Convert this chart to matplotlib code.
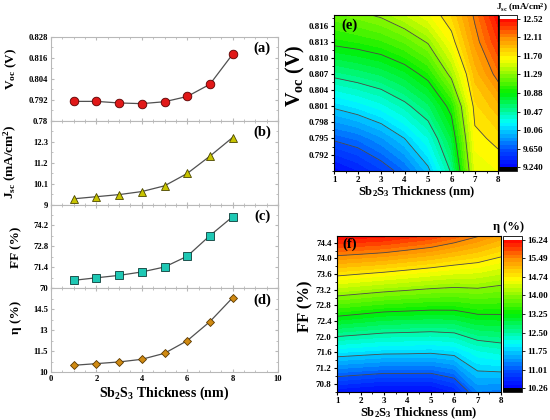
import matplotlib
matplotlib.use("Agg")
import matplotlib.pyplot as plt
import numpy as np
from matplotlib.colors import LinearSegmentedColormap
from matplotlib.ticker import AutoMinorLocator

plt.rcParams["font.family"] = ["Liberation Serif", "DejaVu Serif"]
plt.rcParams["font.weight"] = "bold"
plt.rcParams["axes.labelweight"] = "bold"
plt.rcParams["mathtext.fontset"] = "custom"
plt.rcParams["mathtext.rm"] = "Liberation Serif:bold"
plt.rcParams["mathtext.it"] = "Liberation Serif:italic:bold"
plt.rcParams["mathtext.bf"] = "Liberation Serif:bold"
plt.rcParams["mathtext.default"] = "regular"

# --- data ---
thickness = [1, 2, 3, 4, 5, 6, 7, 8]
voc = [0.7911, 0.7911, 0.7902, 0.7898, 0.7909, 0.7939, 0.8009, 0.8181]
jsc = [9.30, 9.41, 9.52, 9.68, 9.98, 10.63, 11.54, 12.52]
ff = [70.53, 70.70, 70.86, 71.09, 71.42, 72.14, 73.52, 74.78]
eta = [10.48, 10.60, 10.72, 10.91, 11.34, 12.24, 13.61, 15.32]

# contour map (e): Jsc over thickness x Voc
voc_grid = [0.789, 0.795, 0.801, 0.807, 0.813, 0.818]
jsc_map = [
    [9.28, 9.40, 9.55, 9.73, 10.02, 10.50, 11.55, 11.62],
    [9.68, 9.75, 9.88, 10.06, 10.30, 10.72, 11.66, 11.74],
    [10.09, 10.17, 10.27, 10.42, 10.61, 10.95, 11.76, 11.92],
    [10.52, 10.58, 10.65, 10.77, 10.95, 11.35, 11.90, 12.17],
    [10.93, 10.97, 11.03, 11.14, 11.31, 11.64, 12.05, 12.36],
    [11.18, 11.25, 11.32, 11.45, 11.60, 11.79, 12.14, 12.50],
]
jsc_ticks = [9.24, 9.65, 10.06, 10.47, 10.88, 11.29, 11.70, 12.11, 12.52]
jsc_ticklabels = ["9.240", "9.650", "10.06", "10.47", "10.88", "11.29", "11.70", "12.11", "12.52"]

# contour map (f): eta over thickness x FF
ff_grid = [70.6, 71.6, 72.6, 73.6, 74.57]
eta_map = [
    [10.45, 10.38, 10.31, 10.32, 10.33, 10.57, 11.30, 11.24],
    [11.91, 11.86, 11.81, 11.80, 11.78, 11.85, 12.15, 12.25],
    [13.36, 13.28, 13.20, 13.17, 13.14, 13.15, 13.28, 13.28],
    [14.81, 14.74, 14.67, 14.59, 14.51, 14.44, 14.41, 14.29],
    [16.22, 16.18, 16.13, 16.02, 15.91, 15.72, 15.51, 15.29],
]
eta_ticks = [10.26, 11.01, 11.75, 12.50, 13.25, 14.00, 14.74, 15.49, 16.24]
eta_ticklabels = ["10.26", "11.01", "11.75", "12.50", "13.25", "14.00", "14.74", "15.49", "16.24"]

W, H = 550, 420
fig = plt.figure(figsize=(5.5, 4.2), dpi=100)


def px_axes(left, top, right, bottom):
    return fig.add_axes([left / W, 1 - bottom / H, (right - left) / W, (bottom - top) / H])


# --- left stacked panels ---
panels = [
    (voc, r"V$_{oc}$ (V)", (0.78, 0.828), [0.78, 0.792, 0.804, 0.816, 0.828],
     ["0.78", "0.792", "0.804", "0.816", "0.828"], "o", "#e01818", "#5a0000", 6.2, "(a)",
     (-0.142, 0.62)),
    (jsc, r"J$_{sc}$ (mA/cm$^{2}$)", (9, 13.4), [9, 10.1, 11.2, 12.3, 13.4],
     ["9", "10.1", "11.2", "12.3", ""], "^", "#c8c400", "#4a4600", 5.6, "(b)",
     (-0.142, 0.51)),
    (ff, "FF (%)", (70, 75.6), [70, 71.4, 72.8, 74.2, 75.6],
     ["70", "71.4", "72.8", "74.2", ""], "s", "#1ec8b4", "#0c3c38", 5.6, "(c)",
     (-0.128, 0.49)),
    (eta, "η (%)", (10, 16), [10, 11.5, 13, 14.5, 16],
     ["10", "11.5", "13", "14.5", ""], "D", "#d08a12", "#5a3800", 4.2, "(d)",
     (-0.128, 0.65)),
]

panel_h = (372 - 37) / 4
for i, (vals, ylab, ylim, yt, ytl, mk, fc, ec, ms, tag, lpos) in enumerate(panels):
    top = 37 + i * panel_h
    ax = px_axes(51, top, 278, top + panel_h)
    ax.plot(thickness, vals, color="#505050", lw=0.9, marker=mk, ms=ms,
            mfc=fc, mec=ec, mew=0.6, zorder=3)
    ax.set_xlim(0, 10)
    ax.set_ylim(*ylim)
    ax.set_yticks(yt, ytl)
    ax.set_xticks([0, 2, 4, 6, 8, 10])
    ax.xaxis.set_minor_locator(AutoMinorLocator(4))
    ax.yaxis.set_minor_locator(AutoMinorLocator(2))
    for sp in ax.spines.values():
        sp.set_color("#b8b8b8")
        sp.set_linewidth(0.8)
    ax.tick_params(which="both", direction="in", color="#b8b8b8", top=True, right=True,
                   labelsize=6.2, pad=2)
    ax.tick_params(which="major", length=2.5)
    ax.tick_params(which="minor", length=1.5)
    if i < 3:
        ax.tick_params(axis="x", labelbottom=False)
    else:
        ax.set_xlabel(r"Sb$_{2}$S$_{3}$ Thickness (nm)", fontsize=10, labelpad=1)
    ax.set_ylabel(ylab, fontsize=9.5)
    ax.yaxis.set_label_coords(*lpos)
    ax.text(0.93, 0.86, tag, transform=ax.transAxes, ha="center", va="center",
            fontsize=10.5, fontweight="bold")

# --- contour maps ---
cmap = LinearSegmentedColormap.from_list("origin_rainbow", [
    (0.0, "#0000ff"), (0.12, "#0050ff"), (0.3, "#00ffff"), (0.5, "#00f000"),
    (0.73, "#ffff00"), (0.87, "#ff9000"), (1.0, "#ff0000")])
cmap.set_under("black")
cmap.set_over("white")


def contour_panel(ax, cax, zgrid, ygrid, ticks, ticklabels, ylab, ylim, yticks, yfmt,
                  tag, tagpos, lpos, ylab_size):
    levels = np.linspace(ticks[0], ticks[-1], 41)
    cf = ax.contourf(thickness, ygrid, zgrid, levels=levels, cmap=cmap, extend="both")
    ax.contour(thickness, ygrid, zgrid, levels=ticks[1:-1], colors="#4a4a4a", linewidths=0.6)
    ax.set_xlim(1, 8)
    ax.set_ylim(*ylim)
    ax.set_xticks(thickness)
    ax.set_yticks(yticks, [yfmt % v for v in yticks])
    ax.xaxis.set_minor_locator(AutoMinorLocator(2))
    ax.yaxis.set_minor_locator(AutoMinorLocator(2))
    ax.tick_params(which="both", direction="out", labelsize=6.5, pad=1.5)
    ax.tick_params(which="major", length=2.5)
    ax.tick_params(which="minor", length=1.5)
    ax.set_xlabel(r"Sb$_{2}$S$_{3}$ Thickness (nm)", fontsize=9, labelpad=0)
    ax.set_ylabel(ylab, fontsize=ylab_size)
    ax.yaxis.set_label_coords(*lpos)
    ax.text(tagpos[0], tagpos[1], tag, transform=ax.transAxes, ha="center", va="center",
            fontsize=10.5, fontweight="bold")
    cb = fig.colorbar(cf, cax=cax, ticks=ticks, extendrect=True, extendfrac=0.025)
    cb.set_ticklabels(ticklabels)
    cb.ax.tick_params(labelsize=6.6, length=2, width=0.6, pad=2)
    cb.outline.set_linewidth(0.6)
    return cb


ax_e = px_axes(334.3, 15, 498.3, 170.7)
cax_e = px_axes(498.5, 15, 517, 171)
contour_panel(ax_e, cax_e, jsc_map, voc_grid, jsc_ticks, jsc_ticklabels, r"V$_{oc}$ (V)",
              (0.789, 0.818), [0.792, 0.795, 0.798, 0.801, 0.804, 0.807, 0.810, 0.813, 0.816],
              "%.3f", "(e)", (0.09, 0.935), (-0.168, 0.61), 14.5)
fig.text(548 / W, 1 - 8 / H, r"J$_{sc}$ (mA/cm$^{2}$)", ha="right", va="center", fontsize=6.6)

ax_f = px_axes(337.3, 236, 501, 391.7)
cax_f = px_axes(502.7, 236, 521.7, 392)
contour_panel(ax_f, cax_f, eta_map, ff_grid, eta_ticks, eta_ticklabels, "FF (%)",
              (70.6, 74.57), [70.8, 71.2, 71.6, 72.0, 72.4, 72.8, 73.2, 73.6, 74.0, 74.4],
              "%.1f", "(f)", (0.075, 0.945), (-0.147, 0.55), 12)
fig.text(493 / W, 1 - 227 / H, "η (%)", ha="left", va="center", fontsize=9)

fig.savefig("out.png", dpi=100)
